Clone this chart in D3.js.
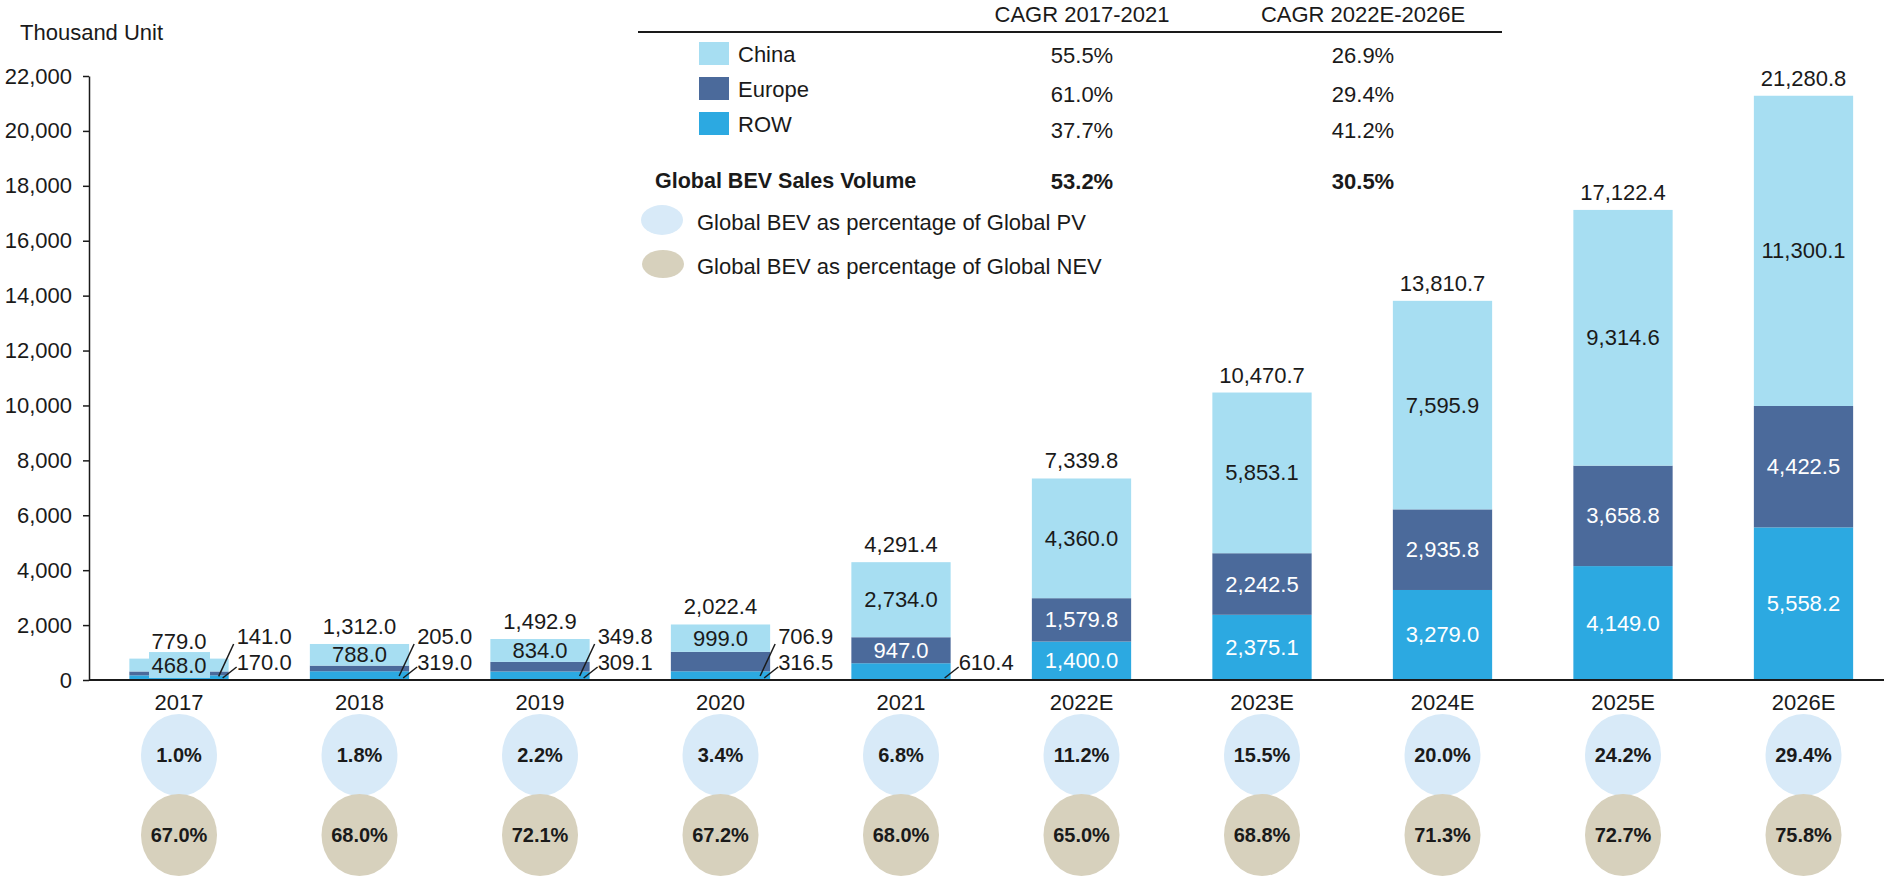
<!DOCTYPE html>
<html>
<head>
<meta charset="utf-8">
<script src="https://cdn.jsdelivr.net/npm/d3@7"></script>
<style>
  html, body { margin: 0; padding: 0; background: #fff; }
  svg { display: block; }
  text { font-family: "Liberation Sans", Arial, sans-serif; fill: #1a1a1a; }
</style>
</head>
<body>
<svg id="chart" width="1900" height="880"></svg>
<script>
// ---------------- data ----------------
const years = ["2017", "2018", "2019", "2020", "2021", "2022E", "2023E", "2024E", "2025E", "2026E"];
const china = [468.0, 788.0, 834.0, 999.0, 2734.0, 4360.0, 5853.1, 7595.9, 9314.6, 11300.1];
const europe = [141.0, 205.0, 349.8, 706.9, 947.0, 1579.8, 2242.5, 2935.8, 3658.8, 4422.5];
const rowSales = [170.0, 319.0, 309.1, 316.5, 610.4, 1400.0, 2375.1, 3279.0, 4149.0, 5558.2];
const totals = [779.0, 1312.0, 1492.9, 2022.4, 4291.4, 7339.8, 10470.7, 13810.7, 17122.4, 21280.8];
const pvShare = [1.0, 1.8, 2.2, 3.4, 6.8, 11.2, 15.5, 20.0, 24.2, 29.4];
const nevShare = [67.0, 68.0, 72.1, 67.2, 68.0, 65.0, 68.8, 71.3, 72.7, 75.8];
const yTicks = [0, 2000, 4000, 6000, 8000, 10000, 12000, 14000, 16000, 18000, 20000, 22000];
const seriesNames = ["China", "Europe", "ROW"];
const cagrHeaders = ["CAGR 2017-2021", "CAGR 2022E-2026E"];
const cagrFirst = ["55.5%", "61.0%", "37.7%", "53.2%"];
const cagrSecond = ["26.9%", "29.4%", "41.2%", "30.5%"];
const totalLabel = "Global BEV Sales Volume";
const pvLegend = "Global BEV as percentage of Global PV";
const nevLegend = "Global BEV as percentage of Global NEV";
const unitLabel = "Thousand Unit";

// ---------------- styles ----------------
const colors = { China: "#a7def2", Europe: "#4b6a9b", ROW: "#2ca9e1" };
const pvColor = "#d8eaf8";
const nevColor = "#d7d1bd";
const FS = 22;

const svg = d3.select("#chart");
const fmt1 = d3.format(",.1f");

const table = years.map((y, i) => ({ year: y, China: china[i], Europe: europe[i], ROW: rowSales[i], total: totals[i], pv: pvShare[i], nev: nevShare[i] }));

const x = d3.scaleBand().domain(years).range([88.75, 1893.75]).paddingInner(0.45).paddingOuter(0.225);
const y = d3.scaleLinear().domain([0, 22000]).range([680, 76]);

// y axis
const yAxis = svg.append("g").attr("transform", "translate(89,0)")
  .call(d3.axisLeft(y).tickValues(yTicks).tickFormat(d3.format(",")).tickSize(6).tickSizeOuter(0).tickPadding(11));
yAxis.selectAll("text").style("font-size", FS + "px").attr("fill", "#1a1a1a");
yAxis.selectAll("line").attr("stroke", "#1a1a1a").attr("stroke-width", 1.5);
yAxis.select(".domain").attr("stroke", "#1a1a1a").attr("stroke-width", 1.5);

svg.append("text").attr("x", 20).attr("y", 40).style("font-size", FS + "px").text(unitLabel);

// stacked bars
const stack = d3.stack().keys(["ROW", "Europe", "China"]);
const layers = stack(table);
const bw = x.bandwidth();

layers.forEach(layer => {
  const key = layer.key;
  svg.append("g").selectAll("rect").data(layer).join("rect")
    .attr("x", d => x(d.data.year))
    .attr("width", bw)
    .attr("y", d => y(d[1]))
    .attr("height", d => y(d[0]) - y(d[1]))
    .attr("fill", colors[key]);
});

// segment labels
const labG = svg.append("g");
layers.forEach(layer => {
  const key = layer.key;
  layer.forEach(d => {
    const y0 = y(d[0]), y1 = y(d[1]);
    const h = y0 - y1;
    const cx = x(d.data.year) + bw / 2;
    const right = x(d.data.year) + bw;
    const mid = (y0 + y1) / 2;
    const val = d.data[key];
    if (key === "China") {
      if (h < 18) {
        labG.append("rect").attr("x", cx - 30).attr("y", mid - 13).attr("width", 61).attr("height", 26).attr("fill", colors.China);
      }
      labG.append("text").attr("x", cx).attr("y", mid).attr("text-anchor", "middle")
        .attr("dominant-baseline", "central").style("font-size", FS + "px").text(fmt1(val));
    } else if (h >= 22) {
      labG.append("text").attr("x", cx).attr("y", mid).attr("text-anchor", "middle")
        .attr("dominant-baseline", "central").style("font-size", FS + "px").style("fill", "#fff").text(fmt1(val));
    } else {
      const ly = key === "Europe" ? y(0) - 44 : y(0) - 18;
      labG.append("text").attr("x", right + 8).attr("y", ly).attr("dominant-baseline", "central")
        .style("font-size", FS + "px").text(fmt1(val));
      if (key === "Europe") {
        labG.append("line").attr("x1", right - 10).attr("y1", Math.max(mid + 3, y(0) - 4)).attr("x2", right + 5).attr("y2", ly + 8)
          .attr("stroke", "#1a1a1a").attr("stroke-width", 1.5);
      } else {
        labG.append("line").attr("x1", right - 6).attr("y1", y(0) - 2).attr("x2", right + 8).attr("y2", ly + 5)
          .attr("stroke", "#1a1a1a").attr("stroke-width", 1.5);
      }
    }
  });
});

// totals
svg.append("g").selectAll("text").data(table).join("text")
  .attr("x", d => x(d.year) + bw / 2)
  .attr("y", d => Math.min(y(d.total), y(d.China + d.Europe + d.ROW)) - 10)
  .attr("text-anchor", "middle").style("font-size", FS + "px")
  .text(d => fmt1(d.total));

// x axis baseline + year labels
const xAxis = svg.append("g").attr("transform", "translate(0,680)")
  .call(d3.axisBottom(x).tickSize(0).tickPadding(14));
xAxis.select(".domain").remove();
xAxis.selectAll("text").style("font-size", FS + "px").attr("fill", "#1a1a1a");
svg.append("line").attr("x1", 89).attr("x2", 1884).attr("y1", 680).attr("y2", 680)
  .attr("stroke", "#1a1a1a").attr("stroke-width", 2);

// share ellipses
const shareG = svg.append("g");
[["pv", 755, pvColor], ["nev", 835, nevColor]].forEach(([k, cy, col]) => {
  const g = shareG.append("g");
  g.selectAll("ellipse").data(table).join("ellipse")
    .attr("cx", d => x(d.year) + bw / 2).attr("cy", cy).attr("rx", 38).attr("ry", 41).attr("fill", col);
  g.selectAll("text").data(table).join("text")
    .attr("x", d => x(d.year) + bw / 2).attr("y", cy).attr("text-anchor", "middle")
    .attr("dominant-baseline", "central").style("font-size", "20px").style("font-weight", "bold")
    .text(d => d[k].toFixed(1) + "%");
});

// ---------------- CAGR legend table ----------------
const lg = svg.append("g");
const colX = [1082, 1363];
lg.append("line").attr("x1", 638).attr("x2", 1502).attr("y1", 32).attr("y2", 32).attr("stroke", "#1a1a1a").attr("stroke-width", 2);
cagrHeaders.forEach((h, i) => {
  lg.append("text").attr("x", colX[i]).attr("y", 14).attr("text-anchor", "middle")
    .attr("dominant-baseline", "central").style("font-size", FS + "px").text(h);
});
const swTop = [42, 77, 112];
const valY = [55, 94, 130];
seriesNames.forEach((s, i) => {
  lg.append("rect").attr("x", 699).attr("y", swTop[i]).attr("width", 30).attr("height", 23).attr("fill", colors[s]);
  lg.append("text").attr("x", 738).attr("y", swTop[i] + 12).attr("dominant-baseline", "central")
    .style("font-size", FS + "px").text(s);
  lg.append("text").attr("x", colX[0]).attr("y", valY[i]).attr("text-anchor", "middle")
    .attr("dominant-baseline", "central").style("font-size", FS + "px").text(cagrFirst[i]);
  lg.append("text").attr("x", colX[1]).attr("y", valY[i]).attr("text-anchor", "middle")
    .attr("dominant-baseline", "central").style("font-size", FS + "px").text(cagrSecond[i]);
});
lg.append("text").attr("x", 655).attr("y", 181).attr("dominant-baseline", "central")
  .style("font-size", "21.5px").style("font-weight", "bold").text(totalLabel);
lg.append("text").attr("x", colX[0]).attr("y", 181).attr("text-anchor", "middle").attr("dominant-baseline", "central")
  .style("font-size", FS + "px").style("font-weight", "bold").text(cagrFirst[3]);
lg.append("text").attr("x", colX[1]).attr("y", 181).attr("text-anchor", "middle").attr("dominant-baseline", "central")
  .style("font-size", FS + "px").style("font-weight", "bold").text(cagrSecond[3]);

lg.append("ellipse").attr("cx", 662).attr("cy", 220).attr("rx", 21).attr("ry", 15).attr("fill", pvColor);
lg.append("text").attr("x", 697).attr("y", 222).attr("dominant-baseline", "central").style("font-size", FS + "px").text(pvLegend);
lg.append("ellipse").attr("cx", 663).attr("cy", 264).attr("rx", 21).attr("ry", 14).attr("fill", nevColor);
lg.append("text").attr("x", 697).attr("y", 266).attr("dominant-baseline", "central").style("font-size", FS + "px").text(nevLegend);
</script>
</body>
</html>
